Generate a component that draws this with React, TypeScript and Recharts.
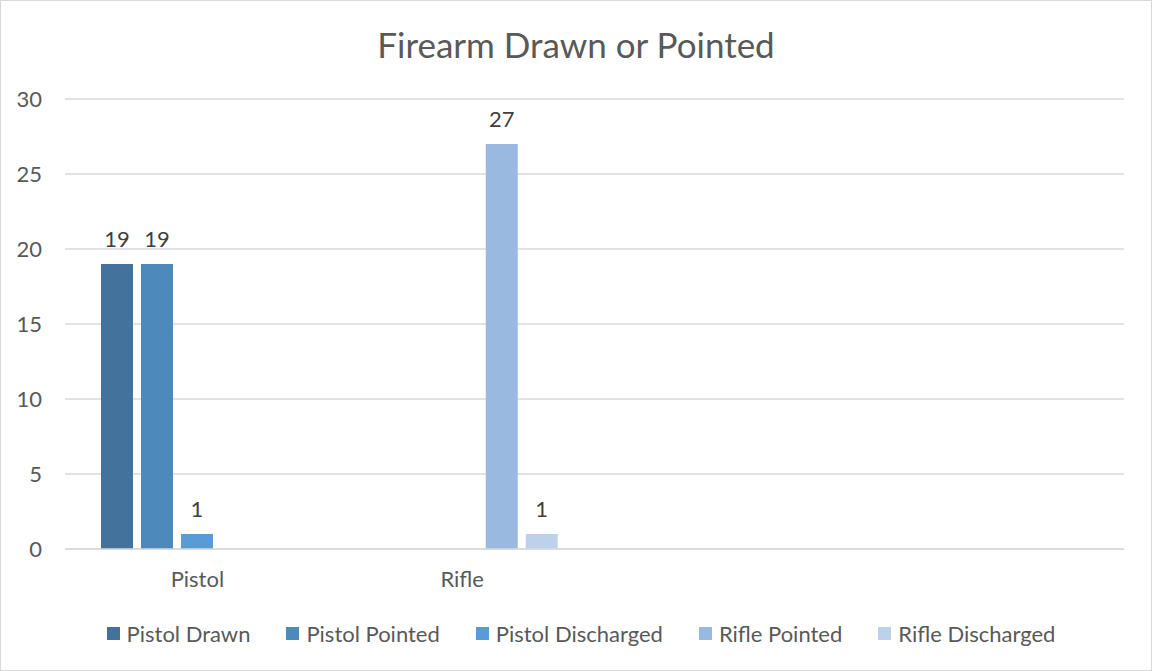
import React from 'react';
import { BarChart, Bar, XAxis, YAxis, CartesianGrid, Legend, LabelList } from 'recharts';

const categories = ['Pistol', 'Rifle', '', ' '];
const pistolDrawn = [19, null, null, null];
const pistolPointed = [19, null, null, null];
const pistolDischarged = [1, null, null, null];
const riflePointed = [null, 27, null, null];
const rifleDischarged = [null, 1, null, null];
const yTicks = [0, 5, 10, 15, 20, 25, 30];

const series = [
  { key: 'pistolDrawn', name: 'Pistol Drawn', color: '#43729d' },
  { key: 'pistolPointed', name: 'Pistol Pointed', color: '#4e89bc' },
  { key: 'pistolDischarged', name: 'Pistol Discharged', color: '#5b9bd5' },
  { key: 'riflePointed', name: 'Rifle Pointed', color: '#9ab9e0' },
  { key: 'rifleDischarged', name: 'Rifle Discharged', color: '#bdd1ea' },
];

const rows = categories.map((category, i) => ({
  category,
  pistolDrawn: pistolDrawn[i],
  pistolPointed: pistolPointed[i],
  pistolDischarged: pistolDischarged[i],
  riflePointed: riflePointed[i],
  rifleDischarged: rifleDischarged[i],
}));

const FONT = 'Lato, "Noto Sans", sans-serif';
const TEXT = '#595959';

const LegendRow = () => (
  <div
    style={{
      display: 'flex',
      justifyContent: 'center',
      alignItems: 'center',
      height: 30,
      paddingLeft: 10,
      fontFamily: FONT,
      fontSize: 22,
      color: TEXT,
    }}
  >
    {series.map((s, i) => (
      <div key={s.key} style={{ display: 'flex', alignItems: 'center', marginLeft: i === 0 ? 0 : 36 }}>
        <span style={{ width: 13, height: 13, background: s.color, marginRight: 7, display: 'inline-block' }} />
        <span>{s.name}</span>
      </div>
    ))}
  </div>
);

export default function App() {
  return (
    <div
      style={{
        position: 'absolute',
        left: 0,
        top: 0,
        width: 1152,
        height: 671,
        boxSizing: 'border-box',
        border: '1px solid #d9d9d9',
        background: '#fff',
        fontFamily: FONT,
      }}
    >
      <div
        style={{
          position: 'absolute',
          left: -1,
          top: 18,
          width: 1152,
          textAlign: 'center',
          fontSize: 35,
          lineHeight: '50px',
          color: TEXT,
        }}
      >
        Firearm Drawn or Pointed
      </div>
      <div style={{ position: 'absolute', left: -1, top: -1 }}>
        <BarChart
          width={1152}
          height={671}
          data={rows}
          margin={{ top: 99, right: 28, left: 8, bottom: 23 }}
          barGap={8}
          barSize={32}
        >
          <CartesianGrid vertical={false} stroke="#d9d9d9" strokeWidth={1.3} />
          <XAxis
            dataKey="category"
            interval={0}
            height={69}
            axisLine={{ stroke: '#d9d9d9', strokeWidth: 1.3 }}
            tickLine={false}
            tickMargin={16}
            tick={{ fill: TEXT, fontSize: 22, fontFamily: FONT }}
          />
          <YAxis
            domain={[0, 30]}
            ticks={yTicks}
            width={57}
            axisLine={false}
            tickLine={false}
            tickMargin={17}
            tick={{ fill: TEXT, fontSize: 22, fontFamily: FONT }}
          />
          <Legend
            verticalAlign="bottom"
            height={30}
            wrapperStyle={{ left: 0, width: 1152 }}
            content={() => <LegendRow />}
          />
          {series.map((s) => (
            <Bar key={s.key} dataKey={s.key} name={s.name} fill={s.color} isAnimationActive={false}>
              <LabelList
                dataKey={s.key}
                position="top"
                offset={17}
                fill="#404040"
                fontSize={22}
                fontFamily={FONT}
              />
            </Bar>
          ))}
        </BarChart>
      </div>
    </div>
  );
}
